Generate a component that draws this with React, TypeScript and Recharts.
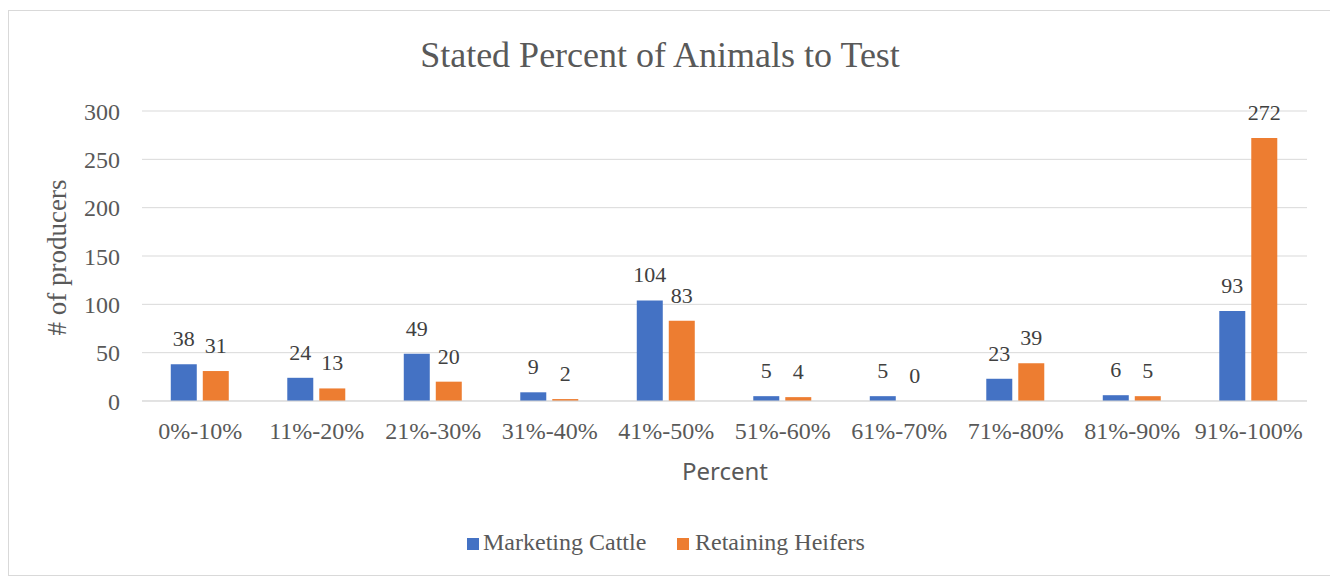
import { BarChart, Bar, XAxis, YAxis, CartesianGrid, LabelList } from "recharts";

const categories = [
  "0%-10%",
  "11%-20%",
  "21%-30%",
  "31%-40%",
  "41%-50%",
  "51%-60%",
  "61%-70%",
  "71%-80%",
  "81%-90%",
  "91%-100%",
];
const marketingCattle = [38, 24, 49, 9, 104, 5, 5, 23, 6, 93];
const retainingHeifers = [31, 13, 20, 2, 83, 4, 0, 39, 5, 272];
const yTicks = [0, 50, 100, 150, 200, 250, 300];

const data = categories.map((name, i) => ({
  name,
  marketing: marketingCattle[i],
  retaining: retainingHeifers[i],
}));

const SERIF = '"Liberation Serif", "Times New Roman", serif';
const TEXT = "#595959";
const BLUE = "#4472C4";
const ORANGE = "#ED7D31";

export default function App() {
  const W = 1321;
  const H = 564;

  return (
    <div
      style={{
        position: "relative",
        marginTop: 2,
        width: W,
        height: H,
        border: "1px solid #d9d9d9",
        background: "#fff",
      }}
    >
      <BarChart
        width={W}
        height={H}
        data={data}
        margin={{ top: 100, right: 23, bottom: 114, left: 0 }}
        barCategoryGap="24.7%"
        barGap={6}
      >
        <CartesianGrid vertical={false} stroke="#d9d9d9" />
        <XAxis
          dataKey="name"
          height={60}
          axisLine={{ stroke: "#d9d9d9" }}
          tickLine={false}
          tickSize={0}
          tickMargin={21}
          tick={{ fill: TEXT, fontSize: 24, fontFamily: SERIF }}
          interval={0}
        />
        <YAxis
          width={133}
          domain={[0, 300]}
          ticks={yTicks}
          axisLine={false}
          tickLine={false}
          tickSize={0}
          tickMargin={22}
          tick={{ fill: TEXT, fontSize: 24, fontFamily: SERIF }}
        />
        <Bar dataKey="marketing" fill={BLUE} isAnimationActive={false}>
          <LabelList
            dataKey="marketing"
            position="top"
            offset={18}
            fill="#404040"
            fontSize={22}
            fontFamily={SERIF}
          />
        </Bar>
        {/* tiny minPointSize keeps the zero bar so its "0" label still shows */}
        <Bar
          dataKey="retaining"
          fill={ORANGE}
          minPointSize={0.01}
          isAnimationActive={false}
        >
          <LabelList
            dataKey="retaining"
            position="top"
            offset={18}
            fill="#404040"
            fontSize={22}
            fontFamily={SERIF}
          />
        </Bar>
      </BarChart>

      {/* titles and legend */}
      <svg
        width={W}
        height={H}
        style={{ position: "absolute", left: 0, top: 0, pointerEvents: "none" }}
      >
        <text
          x={651}
          y={56}
          textAnchor="middle"
          fontSize={36}
          fontFamily={SERIF}
          fill={TEXT}
        >
          Stated Percent of Animals to Test
        </text>
        <text
          x={0}
          y={0}
          transform="translate(57 246.5) rotate(-90)"
          textAnchor="middle"
          fontSize={27}
          fontFamily={SERIF}
          fill={TEXT}
        >
          # of producers
        </text>
        <text
          x={716}
          y={469}
          textAnchor="middle"
          fontSize={24}
          fontFamily='"Noto Sans", "Open Sans", sans-serif'
          fill={TEXT}
        >
          Percent
        </text>
        <rect x={458} y={527} width={12} height={12} fill={BLUE} />
        <text x={474} y={539} fontSize={24} fontFamily={SERIF} fill={TEXT}>
          Marketing Cattle
        </text>
        <rect x={668} y={527} width={12} height={12} fill={ORANGE} />
        <text x={686} y={539} fontSize={24} fontFamily={SERIF} fill={TEXT}>
          Retaining Heifers
        </text>
      </svg>
    </div>
  );
}
